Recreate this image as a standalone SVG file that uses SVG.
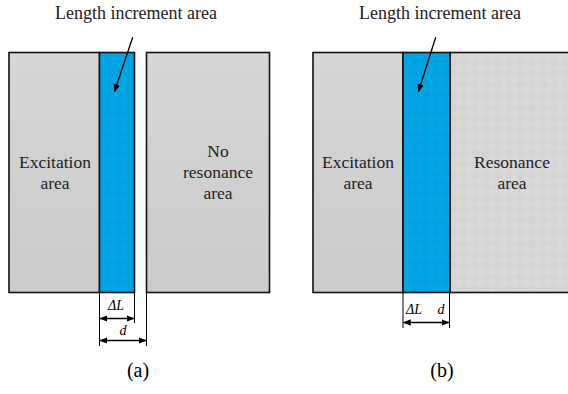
<svg xmlns="http://www.w3.org/2000/svg" width="568" height="394" viewBox="0 0 568 394">
<defs>
<linearGradient id="gray" x1="0" y1="0" x2="0" y2="1">
<stop offset="0" stop-color="#d6d6d6"/>
<stop offset="1" stop-color="#cbcbcb"/>
</linearGradient>
<pattern id="check" width="16" height="16" patternUnits="userSpaceOnUse" patternTransform="rotate(45)">
<rect width="16" height="16" fill="#d9d9d9"/>
<rect width="8" height="8" fill="#d4d4d4"/>
<rect x="8" y="8" width="8" height="8" fill="#d4d4d4"/>
</pattern>
<pattern id="bcheck" width="14" height="14" patternUnits="userSpaceOnUse" patternTransform="rotate(45)">
<rect width="14" height="14" fill="#00a6e6"/>
<rect width="7" height="7" fill="#05a0de"/>
<rect x="7" y="7" width="7" height="7" fill="#05a0de"/>
</pattern>
<marker id="ah" viewBox="0 0 10 10" refX="9" refY="5" markerWidth="8" markerHeight="8" markerUnits="userSpaceOnUse" orient="auto-start-reverse">
<path d="M0,1 L10,5 L0,9 Z" fill="#000"/>
</marker>
</defs>
<style>
.box{stroke:#111;stroke-width:1.6}
text{font-family:"Liberation Serif","Times New Roman",serif}
.t{font-size:17.5px;fill:#222;text-anchor:middle}
.tt{font-size:18px;fill:#222;text-anchor:middle}
.ti{font-size:14px;font-style:italic;fill:#000;text-anchor:middle}
.cap{font-size:20px;fill:#000;text-anchor:middle}
.ln{stroke:#000;stroke-width:1;fill:none}
.arr{stroke:#000;stroke-width:1.3;fill:none}
</style>
<rect width="568" height="394" fill="#fff"/>

<g id="a-excitation">
<rect class="box" x="9" y="52.5" width="90.5" height="240" fill="url(#gray)"/>
<text class="t" x="55" y="168">Excitation</text>
<text class="t" x="55" y="189">area</text>
</g>
<g id="a-increment">
<rect class="box" x="99.5" y="52.5" width="35" height="240" fill="url(#bcheck)"/>
</g>
<g id="a-noresonance">
<rect class="box" x="146.5" y="52.5" width="123" height="240" fill="url(#gray)"/>
<text class="t" x="218" y="157">No</text>
<text class="t" x="218" y="178">resonance</text>
<text class="t" x="218" y="199">area</text>
</g>
<g id="a-title">
<text class="tt" x="136" y="19">Length increment area</text>
</g>

<g id="b-excitation">
<rect class="box" x="313" y="52.5" width="90" height="240" fill="url(#gray)"/>
<text class="t" x="358" y="168">Excitation</text>
<text class="t" x="358" y="189">area</text>
</g>
<g id="b-resonance">
<rect class="box" x="450" y="52.5" width="125" height="240" fill="url(#check)"/>
<text class="t" x="512" y="168">Resonance</text>
<text class="t" x="512" y="189">area</text>
</g>
<g id="b-increment">
<rect class="box" x="403" y="52.5" width="47" height="240" fill="url(#bcheck)"/>
</g>
<g id="b-title">
<text class="tt" x="440" y="19">Length increment area</text>
</g>

<g id="connectors">
<line class="arr" x1="132.7" y1="37.3" x2="114.5" y2="91.5" marker-end="url(#ah)"/>
<line class="arr" x1="435.7" y1="37.3" x2="418.5" y2="91.5" marker-end="url(#ah)"/>
<line class="ln" x1="99.5" y1="293" x2="99.5" y2="346"/>
<line class="ln" x1="134.5" y1="293" x2="134.5" y2="323"/>
<line class="ln" x1="146.5" y1="293" x2="146.5" y2="346"/>
<line class="arr" x1="100" y1="318.5" x2="134" y2="318.5" marker-start="url(#ah)" marker-end="url(#ah)"/>
<line class="arr" x1="100" y1="340.5" x2="146" y2="340.5" marker-start="url(#ah)" marker-end="url(#ah)"/>
<line class="ln" x1="403" y1="293" x2="403" y2="328"/>
<line class="ln" x1="449.5" y1="293" x2="449.5" y2="328"/>
<line class="arr" x1="403.5" y1="322.5" x2="449" y2="322.5" marker-start="url(#ah)" marker-end="url(#ah)"/>
</g>

<text class="ti" x="116" y="310">ΔL</text>
<text class="ti" x="123" y="335">d</text>
<text class="ti" x="414" y="314">ΔL</text>
<text class="ti" x="441" y="314">d</text>

<text class="cap" x="138" y="377">(a)</text>
<text class="cap" x="442" y="377">(b)</text>
</svg>
